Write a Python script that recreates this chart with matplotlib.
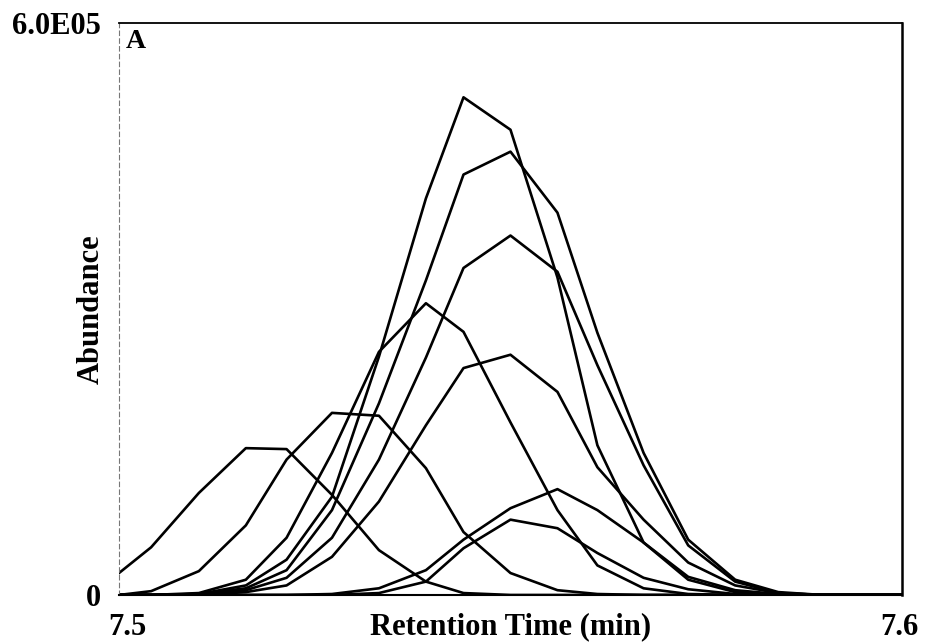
import matplotlib
matplotlib.use("Agg")
import matplotlib.pyplot as plt
from matplotlib.transforms import ScaledTranslation

# retention times of the scans (min)
rt = [7.5000, 7.5041, 7.5102, 7.5162, 7.5214, 7.5272, 7.5332, 7.5392, 7.5440, 7.5500,
      7.5560, 7.5611, 7.5670, 7.5727, 7.5787, 7.5842, 7.5898, 7.5954, 7.6000]

# abundances in thousands of counts, one list per ion trace
ion_a = [23, 50, 107, 154, 153, 105, 47, 14, 2, 0, 0, 0, 0, 0, 0, 0, 0, 0, 0]
ion_b = [0, 4, 25, 73, 142, 191, 188, 133, 66, 23, 5, 1, 0, 0, 0, 0, 0, 0, 0]
ion_c = [0, 0, 2, 16, 60, 149, 255, 306, 276, 181, 89, 31, 7, 1, 0, 0, 0, 0, 0]
ion_d = [0, 0, 1, 10, 37, 103, 250, 416, 522, 488, 333, 157, 55, 16, 3, 0, 0, 0, 0]
ion_e = [0, 0, 1, 7, 26, 89, 201, 330, 441, 465, 401, 275, 149, 58, 16, 3, 0, 0, 0]
ion_f = [0, 0, 0, 5, 18, 60, 142, 249, 343, 377, 339, 241, 136, 52, 14, 2, 0, 0, 0]
ion_g = [0, 0, 0, 3, 10, 40, 98, 178, 238, 252, 213, 134, 79, 34, 10, 2, 0, 0, 0]
ion_h = [0, 0, 0, 0, 0, 1, 7, 26, 58, 91, 111, 89, 55, 19, 5, 1, 0, 0, 0]
ion_i = [0, 0, 0, 0, 0, 0, 2, 14, 49, 79, 70, 44, 18, 6, 1, 0, 0, 0, 0]

traces = [ion_a, ion_b, ion_c, ion_d, ion_e, ion_f, ion_g, ion_h, ion_i]

serif = ["Liberation Serif", "DejaVu Serif"]

fig = plt.figure(figsize=(9.29, 6.43), dpi=100)
ax = fig.add_axes([0.1281, 0.0747, 0.8428, 0.8896])

for tr in traces:
    ax.plot(rt, [v * 1000 for v in tr], color="black", lw=1.9)

ax.set_xlim(7.5, 7.6)
ax.set_ylim(0, 6.0e5)

ax.set_xticks([7.5, 7.6])
ax.set_xticklabels(["7.5", "7.6"])
ax.set_yticks([0, 6.0e5])
ax.set_yticklabels(["0", "6.0E05"])
ax.tick_params(length=0, pad=13, labelsize=22)
for lab in ax.get_xticklabels() + ax.get_yticklabels():
    lab.set_family(serif)
    lab.set_fontweight("bold")

# nudge the end labels slightly inwards
xl = ax.get_xticklabels()
xl[0].set_transform(xl[0].get_transform() + ScaledTranslation(8 / 100, 0, fig.dpi_scale_trans))
xl[1].set_transform(xl[1].get_transform() + ScaledTranslation(-3 / 100, 0, fig.dpi_scale_trans))

ax.set_xlabel("Retention Time (min)", fontsize=22, fontweight="bold", family=serif)
ax.xaxis.set_label_coords(0.5, -0.03)
ax.xaxis.label.set_va("top")
ax.set_ylabel("Abundance", fontsize=22, fontweight="bold", family=serif)
ax.yaxis.set_label_coords(-0.017, 0.5)

ax.text(0.008, 0.99, "A", transform=ax.transAxes, ha="left", va="top",
        fontsize=20, fontweight="bold", family=serif)

ax.spines["left"].set_color("#777777")
ax.spines["left"].set_linestyle((0, (4, 3)))
ax.spines["left"].set_linewidth(0.8)
ax.spines["top"].set_linewidth(1.3)
ax.spines["right"].set_linewidth(1.8)
ax.spines["bottom"].set_linewidth(1.5)

fig.savefig("out.png", dpi=100)
